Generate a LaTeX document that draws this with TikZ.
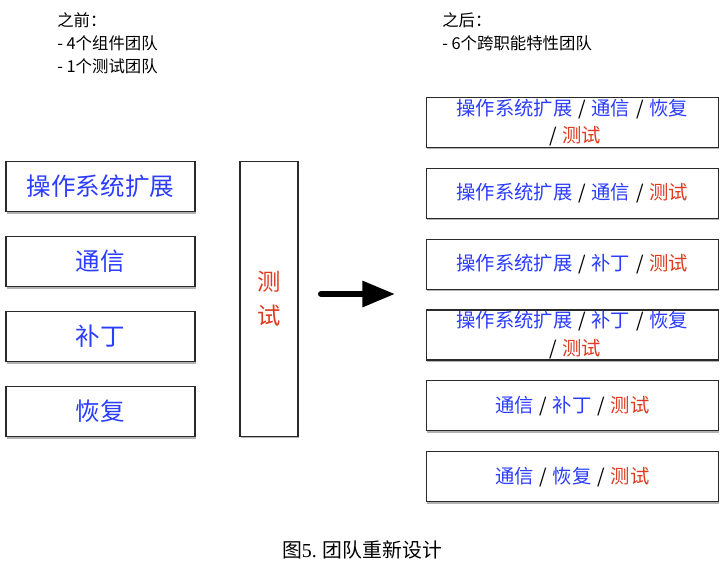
\documentclass[tikz,border=0pt]{standalone}
\usepackage{fontspec}
\setmainfont{Noto Sans CJK SC}
\newfontfamily\capserif{Liberation Serif}
\usetikzlibrary{arrows.meta, positioning, shadows}
\definecolor{compblue}{HTML}{2B3DFF}
\definecolor{testred}{HTML}{E03A1E}
\definecolor{boxline}{HTML}{2A2A2A}
\newcommand{\comp}[1]{\textcolor{compblue}{#1}}
\newcommand{\qa}[1]{\textcolor{testred}{#1}}
\newcommand{\dv}{\hspace{0.3em}/\hspace{0.3em}}

\begin{document}
\begin{tikzpicture}[x=0.75pt, y=-0.75pt,
    teambox/.style={draw=boxline, line width=0.9pt, fill=white, rectangle, inner sep=0pt,
      drop shadow={shadow xshift=0.6pt, shadow yshift=-1.6pt, opacity=0.3, fill=black}},
    compbox/.style={teambox, minimum width=141.75pt, minimum height=37.5pt,
      font=\fontsize{18.4}{22}\selectfont, text=compblue},
    featbox/.style={teambox, minimum width=219pt, minimum height=37.5pt, align=center,
      font=\fontsize{14.5}{20.5}\selectfont},
    note/.style={anchor=west, align=left, inner sep=0pt, font=\fontsize{12.3}{17.2}\selectfont}]
    \useasboundingbox (0,0) rectangle (723,562);

    % before / after notes
    \node[note] (before) at (57,43) {之前：\\- 4个组件团队\\- 1个测试团队};
    \node[note] (after) at (442,32) {之后：\\- 6个跨职能特性团队};

    % component teams
    \foreach \yc/\nm/\lab in {186.5/os/操作系统扩展, 261.5/comm/通信, 336.5/patch/补丁, 411.5/rec/恢复} {
      \node[compbox] (\nm) at (100.5,\yc) {\lab};
    }
    \node[teambox, minimum width=43.5pt, minimum height=206pt, align=center, text=testred,
      font=\fontsize{17.5}{26}\selectfont] (test) at (269,298.8) {测\\试};

    % arrow
    \coordinate (arrS) at (321,294);
    \coordinate (arrE) at (395,294);
    \draw[line width=4.6pt, line cap=round, -{Triangle[length=24.5pt, width=18.75pt]}] (arrS) -- (arrE);

    % feature teams
    \node[featbox] (ft1) at (572.3,122.3) {\comp{操作系统扩展}\dv\comp{通信}\dv\comp{恢复}\\\dv\qa{测试}};
    \node[featbox] (ft2) at (572.3,193.3) {\comp{操作系统扩展}\dv\comp{通信}\dv\qa{测试}};
    \node[featbox] (ft3) at (572.3,264.3) {\comp{操作系统扩展}\dv\comp{补丁}\dv\qa{测试}};
    \node[featbox] (ft4) at (572.3,335) {\comp{操作系统扩展}\dv\comp{补丁}\dv\comp{恢复}\\\dv\qa{测试}};
    \node[featbox] (ft5) at (572.3,405.7) {\comp{通信}\dv\comp{补丁}\dv\qa{测试}};
    \node[featbox] (ft6) at (572.3,476.7) {\comp{通信}\dv\comp{恢复}\dv\qa{测试}};

    % caption
    \node[font=\fontsize{14.9}{16}\selectfont, inner sep=0pt] (caption) at (362,550) {图{\capserif 5.} 团队重新设计};
\end{tikzpicture}
\end{document}
